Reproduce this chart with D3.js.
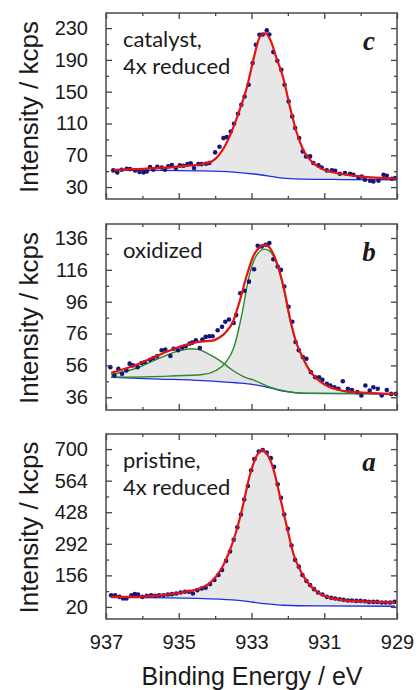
<!doctype html>
<meta charset="utf-8">
<style>
body { margin: 0; background: #fff; }
svg text { font-family: "Liberation Sans", Arial, sans-serif; fill: #1a1a1a; }
.axis path.domain { display: none; }
.axis line { stroke: #444; stroke-width: 1.3; }
.axis text { font-size: 20px; }
.frame { fill: none; stroke: #4a4a4a; stroke-width: 1.5; }
.note { font-family: Lato, "Open Sans", sans-serif; font-size: 22px; }
.tag { font-family: "Liberation Serif", "Times New Roman", serif; font-style: italic; font-weight: bold; font-size: 27px; }
.ytitle, .xtitle { font-size: 26px; }
</style>
<body>
<div id="viz"></div>
<script src="https://d3js.org/d3.v7.min.js"></script>
<script>
// x axis: binding energy, reversed
var energyTicks = [937, 935, 933, 931, 929];
var energyMinor = [936, 934, 932, 930];

// panel c - catalyst, 4x reduced
var cTicks = [30, 70, 110, 150, 190, 230];
var cMinor = [50, 90, 130, 170, 210];
var cDots = [[936.80,51.0],[936.69,48.4],[936.57,51.8],[936.43,53.1],[936.34,52.6],[936.20,51.0],[936.08,48.9],[935.97,48.4],[935.88,49.7],[935.79,55.2],[935.70,51.8],[935.59,55.6],[935.47,54.7],[935.38,51.8],[935.29,56.0],[935.19,57.7],[935.08,53.9],[934.97,57.3],[934.87,56.8],[934.76,58.9],[934.67,59.8],[934.58,53.9],[934.46,58.9],[934.37,58.9],[934.25,59.4],[934.16,60.2],[934.00,73.6],[933.88,80.7],[933.77,91.6],[933.68,92.9],[933.57,100.0],[933.48,109.7],[933.37,122.2],[933.28,133.6],[933.19,144.0],[933.08,158.7],[932.97,186.0],[932.88,209.0],[932.78,221.6],[932.69,222.0],[932.58,227.1],[932.51,222.0],[932.40,199.8],[932.29,188.9],[932.18,177.6],[932.09,158.7],[931.98,137.8],[931.88,118.9],[931.80,104.2],[931.69,91.6],[931.59,74.9],[931.50,68.6],[931.39,68.6],[931.30,60.2],[931.16,57.3],[931.07,54.7],[930.93,51.0],[930.79,51.0],[930.70,50.5],[930.57,46.8],[930.43,47.6],[930.29,46.8],[930.20,45.5],[930.06,42.2],[929.97,43.4],[929.88,39.2],[929.74,38.0],[929.65,37.1],[929.51,38.0],[929.37,45.5],[929.28,44.3],[929.14,40.5],[929.05,41.3]];
var cFit = [[936.80,51.8],[935.97,53.0],[934.97,56.0],[934.23,60.0],[933.96,67.0],[933.68,86.0],[933.50,105.0],[933.32,128.0],[933.13,155.0],[932.95,190.0],[932.77,219.0],[932.63,223.5],[932.49,216.0],[932.31,192.0],[932.12,166.0],[931.94,130.0],[931.76,99.0],[931.57,76.0],[931.30,60.0],[931.02,52.0],[930.57,46.8],[930.02,43.4],[929.01,40.5]];
var cBg = [[936.80,51.0],[935.50,51.0],[934.50,50.5],[933.50,48.9],[932.77,45.5],[932.20,41.5],[931.60,40.0],[930.50,39.5],[929.01,39.2]];

// panel b - oxidized
var bTicks = [36, 56, 76, 96, 116, 136];
var bMinor = [46, 66, 86, 106, 126];
var bDots = [[936.88,54.9],[936.77,49.7],[936.66,53.9],[936.56,50.7],[936.44,52.8],[936.35,57.1],[936.26,56.0],[936.13,54.9],[936.02,57.5],[935.93,58.1],[935.79,59.6],[935.70,60.6],[935.60,61.7],[935.47,65.5],[935.37,65.9],[935.23,61.9],[935.14,66.5],[935.02,65.5],[934.91,67.2],[934.81,68.0],[934.70,69.7],[934.63,70.3],[934.53,71.8],[934.42,66.9],[934.35,72.2],[934.26,73.9],[934.16,74.3],[934.07,74.3],[933.93,78.1],[933.81,80.2],[933.72,83.4],[933.62,84.8],[933.49,82.7],[933.42,87.6],[933.31,101.3],[933.19,102.9],[933.07,108.6],[932.93,116.4],[932.83,131.1],[932.72,130.7],[932.61,131.8],[932.51,132.8],[932.40,122.7],[932.28,118.1],[932.19,116.0],[932.10,105.5],[931.98,92.8],[931.88,83.4],[931.79,70.7],[931.70,65.5],[931.59,61.3],[931.49,60.2],[931.37,51.8],[931.25,48.6],[931.14,48.6],[931.05,46.9],[930.93,44.4],[930.83,43.4],[930.72,42.3],[930.61,41.3],[930.49,46.1],[930.35,41.3],[930.24,40.6],[930.09,39.2],[929.98,37.1],[929.87,43.4],[929.75,40.2],[929.65,42.3],[929.53,41.3],[929.42,37.1],[929.28,40.6],[929.16,38.1],[929.03,38.1]];
var bFit = [[936.86,51.4],[936.21,56.0],[935.56,62.3],[935.00,67.6],[934.53,70.5],[934.35,71.0],[934.07,71.6],[933.88,73.5],[933.70,77.0],[933.51,83.4],[933.33,96.0],[933.14,111.8],[932.95,124.6],[932.77,130.3],[932.63,131.8],[932.49,129.7],[932.30,120.2],[932.12,105.5],[931.93,84.4],[931.79,71.8],[931.60,61.3],[931.37,51.8],[931.09,45.5],[930.72,41.3],[930.16,39.2],[929.03,38.1]];
var bPeak1 = [[936.86,50.3],[936.21,53.9],[935.56,60.2],[935.00,65.1],[934.67,66.5],[934.44,65.9],[934.16,62.9],[933.88,59.2],[933.51,52.8],[933.14,48.2],[932.95,46.9],[932.49,42.3],[932.02,39.6],[931.56,38.5],[929.03,38.1]];
var bPeak2 = [[936.86,48.6],[935.28,49.3],[934.35,50.3],[933.98,52.8],[933.70,58.1],[933.48,67.6],[933.26,88.6],[933.07,111.8],[932.88,124.4],[932.65,129.0],[932.49,127.6],[932.30,119.3],[932.12,104.4],[931.93,83.4],[931.74,68.6],[931.56,59.2],[931.33,50.7],[931.00,44.4],[930.63,40.6],[930.16,38.7],[929.03,38.1]];
var bBg = [[936.86,48.6],[935.74,47.6],[934.35,46.5],[933.42,45.1],[932.95,44.0],[932.49,41.9],[932.12,39.8],[931.56,38.5],[929.03,38.1]];

// panel a - pristine, 4x reduced
var aTicks = [20, 156, 292, 428, 564, 700];
var aMinor = [88, 224, 360, 496, 632];
var aDots = [[936.86,70.6],[936.75,70.6],[936.63,63.4],[936.53,56.2],[936.44,56.2],[936.30,70.6],[936.21,75.0],[936.12,73.5],[936.00,63.4],[935.88,67.7],[935.76,70.6],[935.65,67.7],[935.54,70.6],[935.42,70.6],[935.30,73.5],[935.19,75.0],[935.07,77.9],[934.95,82.2],[934.83,85.1],[934.72,85.1],[934.61,77.9],[934.49,92.3],[934.37,99.6],[934.26,102.5],[934.14,118.4],[934.02,135.7],[933.91,157.4],[933.81,179.1],[933.70,218.2],[933.59,258.7],[933.49,309.4],[933.39,362.9],[933.29,417.9],[933.20,483.0],[933.10,540.8],[933.01,608.8],[932.92,656.6],[932.80,689.9],[932.69,695.7],[932.58,685.5],[932.47,660.9],[932.38,623.3],[932.28,548.1],[932.19,490.2],[932.10,417.9],[932.00,357.1],[931.90,284.8],[931.80,222.6],[931.70,193.6],[931.60,157.4],[931.49,131.4],[931.39,114.0],[931.28,96.7],[931.17,82.2],[931.05,73.5],[930.93,63.4],[930.81,59.1],[930.70,56.2],[930.58,53.3],[930.47,50.4],[930.35,47.5],[930.24,47.5],[930.12,46.0],[930.00,46.0],[929.88,44.6],[929.77,41.7],[929.65,41.7],[929.54,41.7],[929.42,38.8],[929.31,38.8],[929.19,38.8],[929.07,41.7]];
var aFit = [[936.86,63.4],[936.21,63.4],[935.47,70.6],[934.91,82.2],[934.44,99.6],[934.16,121.3],[933.98,150.0],[933.79,195.0],[933.60,262.0],[933.42,345.0],[933.23,460.0],[933.05,585.0],[932.86,670.0],[932.72,695.7],[932.58,680.0],[932.40,615.0],[932.21,490.2],[932.02,360.0],[931.84,245.0],[931.65,175.0],[931.47,128.5],[931.19,85.0],[930.81,58.0],[930.26,46.0],[929.05,38.8]];
var aBg = [[936.86,60.5],[935.28,59.1],[933.88,53.3],[933.23,46.0],[932.67,34.5],[932.12,27.2],[931.09,24.3],[929.05,22.9]];

var W = 417, H = 690;
var left = 106, right = 397;

var svg = d3.select("#viz").append("svg").attr("width", W).attr("height", H);

var x = d3.scaleLinear().domain([937, 929]).range([left, right]);

var panels = [
  {tag: "c", top: 13, bottom: 199, domain: [15, 249], ticks: cTicks, minor: cMinor,
   dots: cDots, fit: cFit, bg: cBg, peaks: [], notes: ["catalyst,", "4x reduced"]},
  {tag: "b", top: 224, bottom: 410, domain: [28, 144.8], ticks: bTicks, minor: bMinor,
   dots: bDots, fit: bFit, bg: bBg, peaks: [bPeak1, bPeak2], notes: ["oxidized"]},
  {tag: "a", top: 434, bottom: 619, domain: [-32, 765], ticks: aTicks, minor: aMinor,
   dots: aDots, fit: aFit, bg: aBg, peaks: [], notes: ["pristine,", "4x reduced"]}
];

panels.forEach(function(p, i) {
  var y = d3.scaleLinear().domain(p.domain).range([p.bottom, p.top]);
  var g = svg.append("g");
  var line = d3.line().x(function(d) { return x(d[0]); }).y(function(d) { return y(d[1]); })
    .curve(d3.curveMonotoneX);

  // shaded peak areas (peak curve down to background)
  var shaded = p.peaks.length ? p.peaks : [p.fit];
  shaded.forEach(function(pk) {
    var back = line(p.bg.slice().reverse());
    g.append("path").attr("d", line(pk) + "L" + back.slice(1) + "Z")
      .attr("fill", "#e3e3e3").attr("fill-opacity", 0.85).attr("stroke", "none");
  });

  g.append("path").attr("d", line(p.bg)).attr("fill", "none").attr("stroke", "#1f2fe0").attr("stroke-width", 1.3);
  p.peaks.forEach(function(pk) {
    g.append("path").attr("d", line(pk)).attr("fill", "none").attr("stroke", "#2a8a2a").attr("stroke-width", 1.4);
  });

  g.selectAll("circle").data(p.dots).enter().append("circle")
    .attr("cx", function(d) { return x(d[0]); })
    .attr("cy", function(d) { return y(d[1]); })
    .attr("r", 2.3).attr("fill", "#15157a");

  g.append("path").attr("d", line(p.fit)).attr("fill", "none").attr("stroke", "#e41414").attr("stroke-width", 2.2);

  // axes, ticks pointing inwards on all four sides
  g.append("g").attr("class", "axis").attr("transform", "translate(" + left + ",0)")
    .call(d3.axisLeft(y).tickValues(p.ticks).tickSize(-6).tickPadding(18));
  g.append("g").attr("class", "axis").attr("transform", "translate(" + left + ",0)")
    .call(d3.axisLeft(y).tickValues(p.minor).tickSize(-3).tickFormat(""));
  g.append("g").attr("class", "axis").attr("transform", "translate(" + right + ",0)")
    .call(d3.axisRight(y).tickValues(p.ticks).tickSize(-6).tickFormat(""));
  g.append("g").attr("class", "axis").attr("transform", "translate(" + right + ",0)")
    .call(d3.axisRight(y).tickValues(p.minor).tickSize(-3).tickFormat(""));
  g.append("g").attr("class", "axis").attr("transform", "translate(0," + p.top + ")")
    .call(d3.axisTop(x).tickValues(energyTicks).tickSize(-6).tickFormat(""));
  g.append("g").attr("class", "axis").attr("transform", "translate(0," + p.top + ")")
    .call(d3.axisTop(x).tickValues(energyMinor).tickSize(-3).tickFormat(""));
  var bx = d3.axisBottom(x).tickValues(energyTicks).tickSize(-6).tickPadding(16);
  if (i < panels.length - 1) bx.tickFormat("");
  g.append("g").attr("class", "axis").attr("transform", "translate(0," + p.bottom + ")").call(bx);
  g.append("g").attr("class", "axis").attr("transform", "translate(0," + p.bottom + ")")
    .call(d3.axisBottom(x).tickValues(energyMinor).tickSize(-3).tickFormat(""));
  g.selectAll(".axis text").attr("fill", "#1a1a1a").style("font-family", "'Liberation Sans', Arial, sans-serif");

  g.append("rect").attr("class", "frame")
    .attr("x", left).attr("y", p.top).attr("width", right - left).attr("height", p.bottom - p.top);

  p.notes.forEach(function(t, k) {
    g.append("text").attr("class", "note").attr("x", 123).attr("y", p.top + 34 + k * 27).text(t);
  });
  g.append("text").attr("class", "tag").attr("x", 369).attr("y", p.top + 37)
    .attr("text-anchor", "middle").text(p.tag);

  g.append("text").attr("class", "ytitle")
    .attr("transform", "translate(38," + ((p.top + p.bottom) / 2 + 1) + ") rotate(-90)")
    .attr("text-anchor", "middle").text("Intensity / kcps");
});

svg.append("text").attr("class", "xtitle").attr("x", 252).attr("y", 685)
  .attr("text-anchor", "middle").style("font-size", "25px").text("Binding Energy / eV");
</script>
</body>
</html>
